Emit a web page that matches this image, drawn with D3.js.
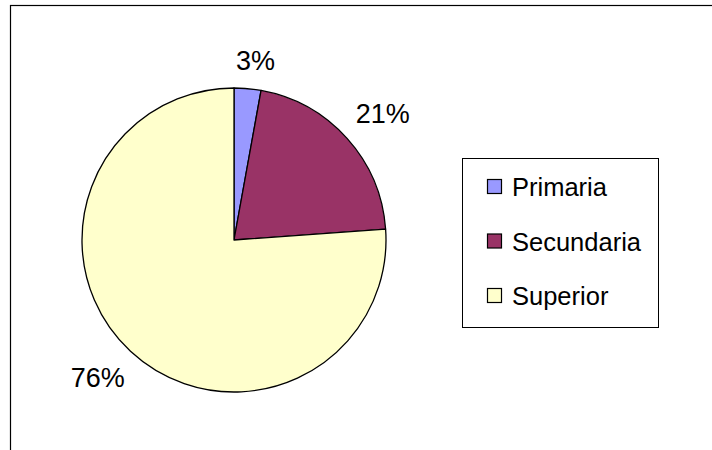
<!DOCTYPE html>
<html>
<head>
<meta charset="utf-8">
<script src="https://cdn.jsdelivr.net/npm/d3@7/dist/d3.min.js"></script>
<style>
html,body{margin:0;padding:0;background:#fff;}
svg{display:block;}
text{font-family:"Liberation Sans",Arial,sans-serif;fill:#000;}
</style>
</head>
<body>
<svg id="chart" width="712" height="450"></svg>
<script>
const categories = ["Primaria", "Secundaria", "Superior"];
const values = [2.85, 21.0, 76.15];
const labels = ["3%", "21%", "76%"];
const colors = ["#9999FF", "#993366", "#FFFFCC"];

const svg = d3.select("#chart");

// outer frame
svg.append("rect").attr("x", 10.5).attr("y", 5.5).attr("width", 800).attr("height", 600)
  .attr("fill", "#fff").attr("stroke", "#000").attr("stroke-width", 1.2);

const cx = 234, cy = 240, r = 152;
const data = categories.map((c, i) => ({cat: c, value: values[i], label: labels[i], color: colors[i]}));

const pie = d3.pie().value(d => d.value).sort(null);
const arcs = pie(data);
const arc = d3.arc().innerRadius(0).outerRadius(r);

const g = svg.append("g").attr("transform", `translate(${cx},${cy})`);
g.selectAll("path").data(arcs).join("path")
  .attr("d", arc)
  .attr("fill", d => d.data.color)
  .attr("stroke", "#000")
  .attr("stroke-width", 1.3)
  .attr("stroke-linejoin", "round");

// labels
const fs = 27;
const lbl = g.selectAll("text.lbl").data(arcs).join("text")
  .attr("class", "lbl")
  .attr("font-size", fs)
  .attr("text-anchor", "middle")
  .attr("dominant-baseline", "central")
  .text(d => d.data.label);
lbl.each(function(d) {
  const bb = this.getBBox();
  const a = (d.startAngle + d.endAngle) / 2 + 0.03;
  const dx = Math.sin(a), dy = -Math.cos(a);
  const hw = bb.width / 2, hh = fs * 0.716 / 2;
  const dist = r + 16 + hw * Math.abs(dx) + hh * Math.abs(dy);
  d3.select(this).attr("x", dx * dist).attr("y", dy * dist);
});

// legend
const lx = 462.5, ly = 158.5, lw = 196, lh = 169;
svg.append("rect").attr("x", lx).attr("y", ly).attr("width", lw).attr("height", lh)
  .attr("fill", "#fff").attr("stroke", "#000").attr("stroke-width", 1);

const legY = d3.scalePoint().domain(categories).range([187, 296]);
const items = svg.selectAll("g.leg").data(data).join("g").attr("class", "leg")
  .attr("transform", d => `translate(0,${legY(d.cat)})`);
items.append("rect").attr("x", 487.5).attr("y", -7.5).attr("width", 14).attr("height", 14)
  .attr("fill", d => d.color).attr("stroke", "#000").attr("stroke-width", 1.2);
items.append("text").attr("x", 512).attr("y", 0).attr("dy", "0.36em")
  .attr("font-size", 25.5).text(d => d.cat);
</script>
</body>
</html>
